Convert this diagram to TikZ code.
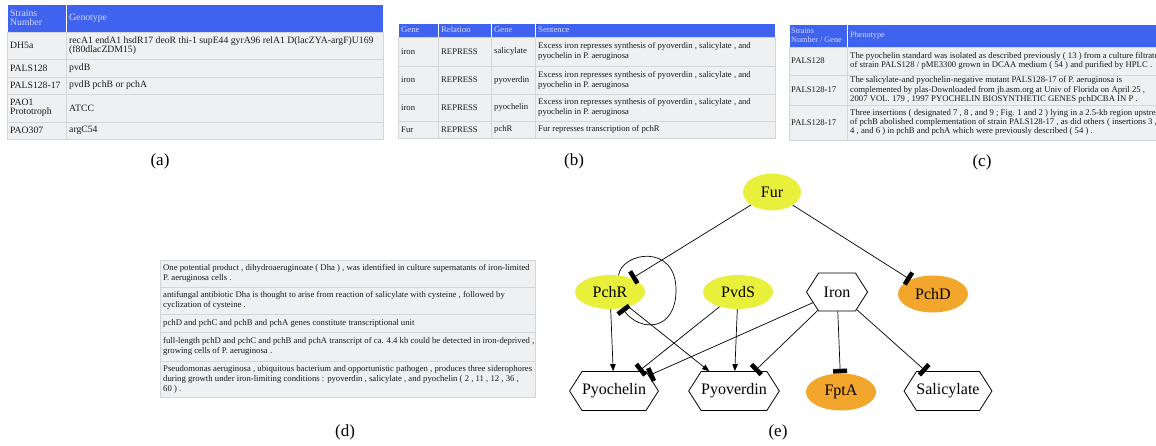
\documentclass[tikz,border=0pt]{standalone}
\usepackage{fontspec}
\setmainfont{Liberation Serif}
\usetikzlibrary{shapes.geometric,shapes.symbols,arrows.meta}
\definecolor{hdrblue}{HTML}{3F63EE}
\definecolor{cellgray}{HTML}{EEF0F2}
\definecolor{rulegray}{HTML}{D3D7DA}
\definecolor{tfyellow}{HTML}{E8F03C}
\definecolor{geneorange}{HTML}{F2A62C}
\newcommand{\graphfont}{\fontsize{16}{18}\selectfont}
\begin{document}
\begin{tikzpicture}[x=1pt,y=-1pt,
  hdrcell/.style={fill=hdrblue, draw=white, line width=0.6pt},
  bodycell/.style={fill=cellgray, draw=rulegray, line width=0.6pt},
  celltext/.style={anchor=west, align=left, inner sep=0pt, text=black!90},
  hdrtext/.style={celltext, text=white!85!blue},
  fonta/.style={font=\fontsize{9.7}{9.6}\selectfont},
  fontb/.style={font=\fontsize{8.65}{10}\selectfont},
  fontc/.style={font=\fontsize{8.7}{9.4}\selectfont},
  fontch/.style={font=\fontsize{8.2}{9.3}\selectfont},
  fontd/.style={font=\fontsize{8.7}{10}\selectfont},
  panel/.style={font=\fontsize{17}{19}\selectfont, inner sep=0pt},
  tf/.style={ellipse, fill=tfyellow, minimum width=70pt, minimum height=34pt, inner sep=0pt, font=\graphfont},
  target/.style={ellipse, fill=geneorange, minimum width=70pt, minimum height=37pt, inner sep=0pt, font=\graphfont},
  molecule/.style={signal, signal to=east and west, signal pointer angle=115, draw, line width=0.8pt,
    minimum width=85pt, minimum height=39pt, inner sep=0pt, font=\graphfont},
  edge/.style={line width=0.7pt},
  activates/.style={edge, -{Triangle[length=7pt,width=5.5pt]}},
  represses/.style={edge, -{Rectangle[length=4.5pt,width=14pt]}},
]
\useasboundingbox (0,0) rectangle (1156,446);
\clip (0,0) rectangle (1156,446);

% ---------- (a) strains and genotypes ----------
\draw[hdrcell] (7,4) rectangle (66,32);
\draw[hdrcell] (66,4) rectangle (383,32);
\foreach \ya/\yb in {32/59,59/77,77/94,94/122,122/139}{
  \draw[bodycell] (7,\ya) rectangle (66,\yb);
  \draw[bodycell] (66,\ya) rectangle (383,\yb);
}
\begin{scope}[every node/.append style={fonta}]
\node[hdrtext] (ah1) at (10,18) {Strains\\Number};
\node[hdrtext] (ah2) at (69,18) {Genotype};
\node[celltext] (a11) at (10,45.5) {DH5a};
\node[celltext] (a12) at (69,45.5) {recA1 endA1 hsdR17 deoR thi-1 supE44 gyrA96 relA1 D(lacZYA-argF)U169\\(f80dlacZDM15)};
\node[celltext] (a21) at (10,68) {PALS128};
\node[celltext] (a22) at (69,68) {pvdB};
\node[celltext] (a31) at (10,85.5) {PALS128-17};
\node[celltext] (a32) at (69,85.5) {pvdB pchB or pchA};
\node[celltext] (a41) at (10,108) {PAO1\\Prototroph};
\node[celltext] (a42) at (69,108) {ATCC};
\node[celltext] (a51) at (10,130.5) {PAO307};
\node[celltext] (a52) at (69,130.5) {argC54};
\end{scope}

% ---------- (b) extracted relations ----------
\foreach \xa/\xb in {398/438,438/491,491/535,535/775}{
  \draw[hdrcell] (\xa,23) rectangle (\xb,37);
  \foreach \ya/\yb in {37/66,66/94,94/121,121/138}{
    \draw[bodycell] (\xa,\ya) rectangle (\xb,\yb);
  }
}
\begin{scope}[every node/.append style={fontb}]
\node[hdrtext] (bh1) at (401,30) {Gene};
\node[hdrtext] (bh2) at (441,30) {Relation};
\node[hdrtext] (bh3) at (494,30) {Gene};
\node[hdrtext] (bh4) at (538,30) {Sentence};
\foreach \yc/\gn/\nm in {51.5/salicylate/b1,80/pyoverdin/b2,107.5/pyochelin/b3}{
  \node[celltext] (\nm a) at (401,\yc) {iron};
  \node[celltext] (\nm b) at (441,\yc) {REPRESS};
  \node[celltext] (\nm c) at (494,\yc) {\gn};
  \node[celltext] (\nm d) at (538,\yc) {Excess iron represses synthesis of pyoverdin , salicylate , and\\pyochelin in P. aeruginosa};
}
\node[celltext] (b4a) at (401,129.5) {Fur};
\node[celltext] (b4b) at (441,129.5) {REPRESS};
\node[celltext] (b4c) at (494,129.5) {pchR};
\node[celltext] (b4d) at (538,129.5) {Fur represses transcription of pchR};
\end{scope}

% ---------- (c) phenotypes ----------
\draw[hdrcell] (789,24) rectangle (847,47);
\draw[hdrcell] (847,24) rectangle (1170,47);
\foreach \ya/\yb in {47/75,75/105,105/140}{
  \draw[bodycell] (789,\ya) rectangle (847,\yb);
  \draw[bodycell] (847,\ya) rectangle (1170,\yb);
}
\begin{scope}[every node/.append style={fontch}]
\node[hdrtext] (ch1) at (791,35.5) {Strains\\Number / Gene};
\node[hdrtext] (ch2) at (850,35.5) {Phenotype};
\end{scope}
\begin{scope}[every node/.append style={fontc}]
\node[celltext] (c11) at (791,61) {PALS128};
\node[celltext] (c12) at (850,61) {The pyochelin standard was isolated as described previously ( 13 ) from a culture filtrate\\of strain PALS128 / pME3300 grown in DCAA medium ( 54 ) and purified by HPLC .};
\node[celltext] (c21) at (791,90) {PALS128-17};
\node[celltext] (c22) at (850,90) {The salicylate-and pyochelin-negative mutant PALS128-17 of P. aeruginosa is\\complemented by plas-Downloaded from jb.asm.org at Univ of Florida on April 25 ,\\2007 VOL. 179 , 1997 PYOCHELIN BIOSYNTHETIC GENES pchDCBA IN P .};
\node[celltext] (c31) at (791,122.5) {PALS128-17};
\node[celltext] (c32) at (850,122.5) {Three insertions ( designated 7 , 8 , and 9 ; Fig. 1 and 2 ) lying in a 2.5-kb region upstream\\of pchB abolished complementation of strain PALS128-17 , as did others ( insertions 3 ,\\4 , and 6 ) in pchB and pchA which were previously described ( 54 ) .};
\end{scope}

% ---------- (d) supporting sentences ----------
\foreach \ya/\yb in {260/287,287/314,314/332,332/361,361/397}{
  \draw[bodycell] (160,\ya) rectangle (535,\yb);
}
\begin{scope}[every node/.append style={fontd}]
\node[celltext] (d1) at (163,273.5) {One potential product , dihydroaeruginoate ( Dha ) , was identified in culture supernatants of iron-limited\\P. aeruginosa cells .};
\node[celltext] (d2) at (163,300.5) {antifungal antibiotic Dha is thought to arise from reaction of salicylate with cysteine , followed by\\cyclization of cysteine .};
\node[celltext] (d3) at (163,323) {pchD and pchC and pchB and pchA genes constitute transcriptional unit};
\node[celltext] (d4) at (163,346.5) {full-length pchD and pchC and pchB and pchA transcript of ca. 4.4 kb could be detected in iron-deprived ,\\growing cells of P. aeruginosa .};
\node[celltext] (d5) at (163,379) {Pseudomonas aeruginosa , ubiquitous bacterium and opportunistic pathogen , produces three siderophores\\during growth under iron-limiting conditions : pyoverdin , salicylate , and pyochelin ( 2 , 11 , 12 , 36 ,\\60 ) .};
\end{scope}

% ---------- (e) regulatory network ----------
\node[tf, minimum width=58pt, minimum height=37pt] (Fur) at (772,192) {Fur};
\node[tf] (PchR) at (610,292) {PchR};
\node[tf] (PvdS) at (738,292) {PvdS};
\node[molecule, minimum width=61pt, minimum height=38pt] (Iron) at (837,292) {Iron};
\node[target] (PchD) at (933,294) {PchD};
\node[molecule] (Pyochelin) at (614,391) {Pyochelin};
\node[molecule] (Pyoverdin) at (734,391) {Pyoverdin};
\node[target] (FptA) at (841,392) {FptA};
\node[molecule, minimum width=86pt] (Salicylate) at (948,391) {Salicylate};

\draw[represses] (Fur) -- (PchR);
\draw[represses] (Fur) -- (PchD);
\coordinate (loopR) at (676,290);
\draw[represses] (PchR.63) .. controls (622,252) and (676,243) .. (loopR)
  .. controls (676,332) and (640,332) .. (PchR.-53);
\draw[activates] (PchR) -- (Pyochelin);
\draw[activates] (PchR) -- (Pyoverdin);
\draw[represses] (PvdS) -- (Pyochelin);
\draw[activates] (PvdS) -- (Pyoverdin);
\draw[represses] (Iron) -- (Pyochelin);
\draw[represses] (Iron) -- (Pyoverdin);
\draw[represses] (Iron) -- (FptA);
\draw[represses] (Iron) -- (Salicylate);

% ---------- panel letters ----------
\node[panel] (la) at (160,161) {(a)};
\node[panel] (lb) at (574,161) {(b)};
\node[panel] (lc) at (982,162) {(c)};
\node[panel] (ld) at (345,432) {(d)};
\node[panel] (le) at (778,432) {(e)};
\end{tikzpicture}
\end{document}
